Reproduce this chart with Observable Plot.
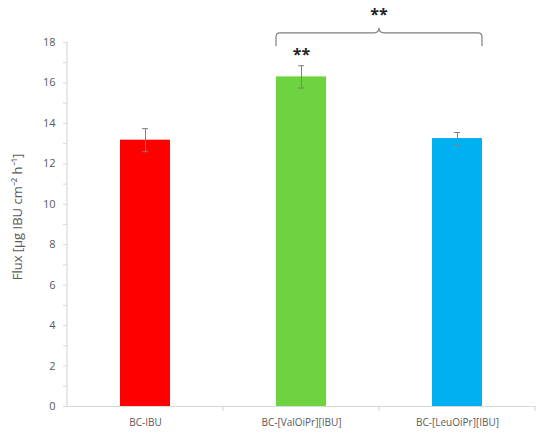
<!DOCTYPE html>
<html><head><meta charset="utf-8">
<script src="https://cdn.jsdelivr.net/npm/d3@7"></script>
<script src="https://cdn.jsdelivr.net/npm/@observablehq/plot@0.6"></script>
<style>body{margin:0;background:#fff}</style>
</head><body><div id="chart"></div>
<script>
const categories = ["BC-IBU", "BC-[ValOiPr][IBU]", "BC-[LeuOiPr][IBU]"];
const fluxValues = [13.17, 16.3, 13.25];
const errorValues = [0.57, 0.55, 0.3];
const barColors = ["#ff0000", "#6dd33f", "#00b0f0"];
const starLabels = ["", "**", ""];
const yTicks = d3.range(0, 19, 1);
const yLabelTicks = [0, 2, 4, 6, 8, 10, 12, 14, 16, 18];
const yTitle = "Flux [µg IBU cm⁻² h⁻¹]";
const bracketLabel = "**";

const data = categories.map((c, i) => ({cat: c, v: fluxValues[i], e: errorValues[i], col: barColors[i], star: starLabels[i]}));
const font = "'Open Sans', sans-serif";

const plot = Plot.plot({
  width: 550, height: 437,
  marginLeft: 67, marginRight: 15, marginTop: 42, marginBottom: 31,
  style: {fontFamily: font, fontSize: "10px", color: "#595959", background: "#fff"},
  x: {domain: categories, padding: 0, label: null},
  y: {domain: [0, 18], label: null},
  marks: [
    Plot.barY(data, {x: "cat", y: "v", fill: "col", insetLeft: 53, insetRight: 53}),
    Plot.ruleY([0], {stroke: "#d9d9d9", strokeWidth: 1.2}),
    Plot.ruleX(data, {x: "cat", y1: d => d.v - d.e, y2: d => d.v + d.e, stroke: "#7f7f7f", strokeWidth: 1}),
    Plot.tickY(data, {x: "cat", y: d => d.v + d.e, stroke: "#7f7f7f", insetLeft: 75, insetRight: 75}),
    Plot.tickY(data, {x: "cat", y: d => d.v - d.e, stroke: "#7f7f7f", insetLeft: 75, insetRight: 75}),
    Plot.text(data, {x: "cat", y: d => d.v + d.e, text: "star", dy: -11, fontSize: 16, fontWeight: "bold", fill: "#222"}),
    Plot.axisY({ticks: yTicks, tickSize: 4, tickPadding: 8, tickFormat: d => yLabelTicks.includes(d) ? String(d) : "", stroke: "#d9d9d9", fill: "#595959", fontSize: 11, label: null}),
    Plot.axisX({tickSize: 0, tickPadding: 12, fill: "#595959", fontSize: 10, label: null})
  ]
});

const svg = d3.select(plot);
const xs = plot.scale("x"), ys = plot.scale("y");
const bw = xs.bandwidth;
const x0 = xs.apply(categories[0]);
const yBase = ys.apply(0), yTop = ys.apply(18);
// y axis line
svg.append("line").attr("x1", x0).attr("x2", x0).attr("y1", yBase).attr("y2", yTop)
  .attr("stroke", "#d9d9d9").attr("stroke-width", 1.2);
// x band boundary ticks
categories.forEach((c, i) => {
  const xb = xs.apply(c) + bw;
  svg.append("line").attr("x1", xb).attr("x2", xb).attr("y1", yBase).attr("y2", yBase + 5)
    .attr("stroke", "#d9d9d9").attr("stroke-width", 1.2);
});
// bracket between green and blue bars
const inset = 53;
const xa = xs.apply(categories[1]) + inset;
const xbEnd = xs.apply(categories[2]) + bw - inset;
const xm = xs.apply(categories[2]);
const yb = ys.apply(18.45), yLow = ys.apply(17.8), yCusp = ys.apply(18.7);
const r = 4;
const path = `M${xa},${yLow} L${xa},${yb + r} Q${xa},${yb} ${xa + r},${yb} L${xm - 5},${yb} Q${xm},${yb} ${xm},${yCusp} Q${xm},${yb} ${xm + 5},${yb} L${xbEnd - r},${yb} Q${xbEnd},${yb} ${xbEnd},${yb + r} L${xbEnd},${yLow}`;
svg.append("path").attr("d", path).attr("fill", "none").attr("stroke", "#7f7f7f").attr("stroke-width", 1.2);
svg.append("text").attr("x", xm).attr("y", yCusp - 8).attr("text-anchor", "middle")
  .attr("font-size", 16).attr("font-weight", "bold").attr("fill", "#222").attr("font-family", font).text(bracketLabel);
// y title
svg.append("text").attr("transform", `translate(22,${(yBase + yTop) / 2 - 7}) rotate(-90)`)
  .attr("text-anchor", "middle").attr("font-size", 13).attr("fill", "#595959").attr("font-family", font).text(yTitle);

document.getElementById("chart").appendChild(plot);
</script></body></html>
